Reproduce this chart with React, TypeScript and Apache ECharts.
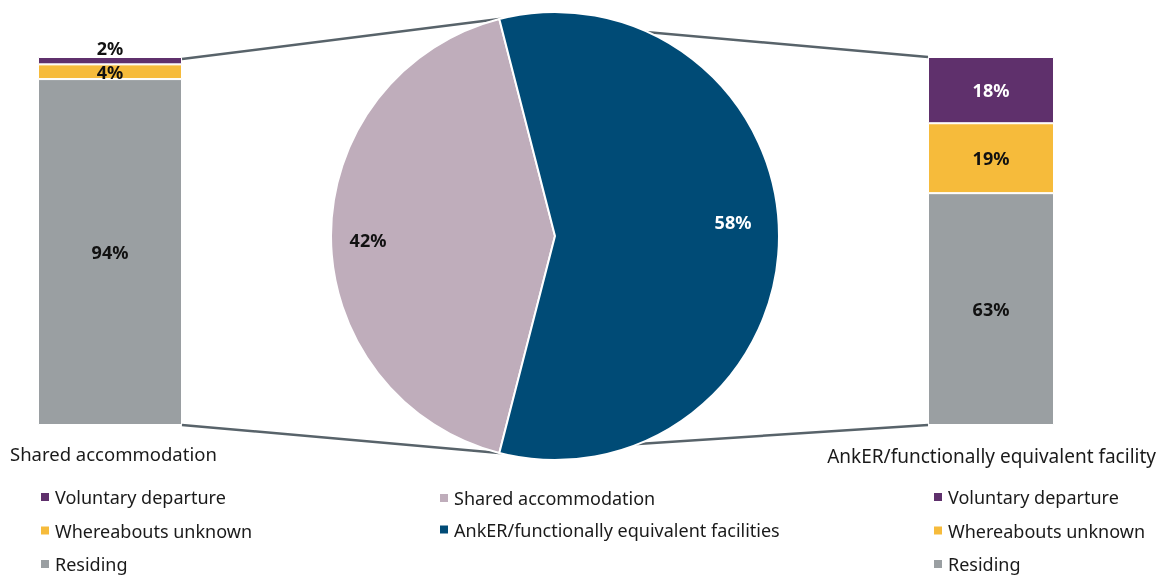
import React, { useEffect, useRef } from "react";
import * as echarts from "echarts";

// ---- data ----
const segmentNames = ["Residing", "Whereabouts unknown", "Voluntary departure"];
const sharedValues = [94, 4, 2];
const ankerValues = [63, 19, 18];
const pieNames = ["Shared accommodation", "AnkER/functionally equivalent facilities"];
const pieValues = [42, 58];
const barTitles = ["Shared accommodation", "AnkER/functionally equivalent facility"];
const legendOrder = ["Voluntary departure", "Whereabouts unknown", "Residing"];

// ---- styles / layout ----
const SEG_COLORS: Record<string, string> = {
  "Voluntary departure": "#5f306c",
  "Whereabouts unknown": "#f6bb3b",
  Residing: "#9a9fa2",
};
const PIE_COLORS = ["#bfadbb", "#004b76"];
const PIE_LABEL_COLORS = ["#111111", "#ffffff"];
const PIE_LABEL_SHIFT = [
  { dx: -72, dy: 4 },
  { dx: 63, dy: -14 },
];
const FONT = "'Noto Sans', sans-serif";
const TEXT = "#1a1a1a";
const LINE = "#58636a";
const LEFT_GRID = { left: 38, top: 57, width: 144, height: 368 };
const RIGHT_GRID = { left: 928, top: 57, width: 126, height: 368 };
const PIE_C = [555, 236];
const PIE_R = 224;

export default function App() {
  const ref = useRef<HTMLDivElement>(null);
  useEffect(() => {
    if (!ref.current) return;
    const chart = echarts.init(ref.current, undefined, { renderer: "svg" });

    const total = pieValues.reduce((a, b) => a + b, 0);
    const firstSweep = (pieValues[0] / total) * 360;
    const startAngle = 180 + firstSweep / 2;
    const a1 = (startAngle * Math.PI) / 180;
    const a2 = ((startAngle - firstSweep) * Math.PI) / 180;
    const pBottom = [PIE_C[0] + PIE_R * Math.cos(a1), PIE_C[1] - PIE_R * Math.sin(a1)];
    const pTop = [PIE_C[0] + PIE_R * Math.cos(a2), PIE_C[1] - PIE_R * Math.sin(a2)];

    const labelColor = (grid: number, name: string) =>
      grid === 1 && name === "Voluntary departure" ? "#ffffff" : "#111111";

    const makeBars = (values: number[], grid: number) =>
      segmentNames.map((name, i) => ({
        type: "bar",
        name,
        stack: "s" + grid,
        xAxisIndex: grid,
        yAxisIndex: grid,
        barWidth: "100%",
        z: 3,
        data: [values[i]],
        itemStyle: { color: SEG_COLORS[name], borderColor: "#ffffff", borderWidth: 1 },
        label: {
          show: true,
          position: grid === 0 && name === "Voluntary departure" ? "top" : "inside",
          distance: 0,
          formatter: "{c}%",
          fontFamily: FONT,
          fontWeight: "bold",
          fontSize: 18,
          color: labelColor(grid, name),
        },
      }));

    const grids = [LEFT_GRID, RIGHT_GRID];
    const lineStyle = { stroke: LINE, lineWidth: 2.5 };
    const legendText = { fontFamily: FONT, fontSize: 18, color: TEXT };

    chart.setOption({
      animation: false,
      grid: grids.map((g) => ({ ...g })),
      xAxis: grids.map((_, i) => ({ type: "category", gridIndex: i, data: [""], show: false })),
      yAxis: grids.map((_, i) => ({ type: "value", gridIndex: i, min: 0, max: 100, show: false })),
      legend: [
        {
          data: legendOrder,
          orient: "vertical",
          left: 34,
          top: 483,
          icon: "rect",
          itemWidth: 10,
          itemHeight: 10,
          itemGap: 15.5,
          textStyle: legendText,
        },
        {
          data: pieNames,
          orient: "vertical",
          left: 433,
          top: 484,
          icon: "rect",
          itemWidth: 10,
          itemHeight: 10,
          itemGap: 13.5,
          textStyle: legendText,
        },
        {
          data: legendOrder,
          orient: "vertical",
          left: 927,
          top: 483,
          icon: "rect",
          itemWidth: 10,
          itemHeight: 10,
          itemGap: 15.5,
          textStyle: legendText,
        },
      ],
      graphic: [
        { type: "line", z: 0, shape: { x1: LEFT_GRID.left + LEFT_GRID.width, y1: LEFT_GRID.top + 2, x2: pTop[0], y2: pTop[1] }, style: lineStyle },
        { type: "line", z: 0, shape: { x1: LEFT_GRID.left + LEFT_GRID.width, y1: LEFT_GRID.top + LEFT_GRID.height, x2: pBottom[0], y2: pBottom[1] }, style: lineStyle },
        { type: "line", z: 0, shape: { x1: pTop[0], y1: pTop[1], x2: RIGHT_GRID.left, y2: RIGHT_GRID.top }, style: lineStyle },
        { type: "line", z: 0, shape: { x1: pBottom[0], y1: pBottom[1], x2: RIGHT_GRID.left, y2: RIGHT_GRID.top + RIGHT_GRID.height }, style: lineStyle },
        {
          type: "text",
          left: 10,
          top: 444,
          style: { text: barTitles[0], fontFamily: FONT, fontSize: 18.5, fill: TEXT },
        },
        {
          type: "text",
          right: 8,
          top: 446,
          style: { text: barTitles[1], fontFamily: FONT, fontSize: 19, fill: TEXT },
        },
      ],
      series: [
        ...makeBars(sharedValues, 0),
        ...makeBars(ankerValues, 1),
        {
          type: "pie",
          z: 2,
          center: PIE_C,
          radius: PIE_R,
          startAngle,
          clockwise: true,
          data: pieNames.map((name, i) => ({
            name,
            value: pieValues[i],
            itemStyle: { color: PIE_COLORS[i] },
            label: { color: PIE_LABEL_COLORS[i] },
          })),
          itemStyle: { borderColor: "#ffffff", borderWidth: 2 },
          label: {
            show: true,
            position: "inside",
            formatter: "{c}%",
            fontFamily: FONT,
            fontWeight: "bold",
            fontSize: 18,
          },
          labelLayout: (p: any) => PIE_LABEL_SHIFT[p.dataIndex],
          emphasis: { disabled: true },
        },
      ],
    });
    return () => chart.dispose();
  }, []);
  return <div ref={ref} style={{ position: "fixed", left: 0, top: 0, width: 1164, height: 579 }} />;
}
